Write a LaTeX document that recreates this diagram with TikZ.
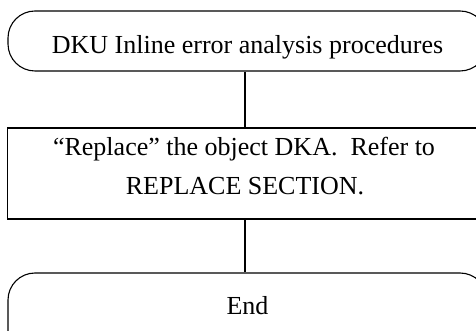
\documentclass[tikz,border=0pt]{standalone}
\usepackage{fontspec}
\setmainfont{Liberation Serif}
\begin{document}
\begin{tikzpicture}[x=1pt,y=1pt,
  boxline/.style={draw=black, line width=1.1pt, inner sep=0pt},
  termbox/.style={boxline, rounded corners=27pt, minimum width=479pt},
  procbox/.style={boxline, minimum width=479.5pt},
  label/.style={font=\fontsize{26}{31}\selectfont, anchor=base, inner sep=0pt},
  conn/.style={draw=black, line width=1.1pt}]
\clip (0,0) rectangle (476,331);
\useasboundingbox (0,0) rectangle (476,331);
\node[termbox, minimum height=60pt] (start) at (247.5,290) {};
\node[procbox, minimum height=91pt] (proc) at (247.25,157.5) {};
\node[termbox, minimum height=98pt] (end) at (247.5,9) {};
\node[label] (t1) at (247.5,277) {DKU Inline error analysis procedures};
\node[label] (t2) at (244,175) {“Replace” the object DKA.\ \ Refer to};
\node[label] (t3) at (245,136) {REPLACE SECTION.};
\node[label] (t4) at (247.5,16) {End};
\draw[conn] ([xshift=-2.5pt]start.south) -- ([xshift=-2.25pt]proc.north);
\draw[conn] ([xshift=-2.25pt]proc.south) -- ([xshift=-2.5pt]end.north);
\end{tikzpicture}
\end{document}
